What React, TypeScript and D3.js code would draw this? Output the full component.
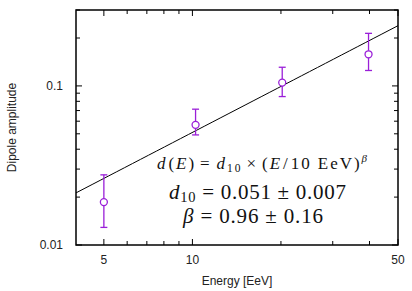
import React from 'react'
import * as d3 from 'd3'

// data
const energy = [5.0, 10.25, 20.2, 39.7]
const amplitude = [0.0186, 0.0569, 0.1049, 0.158]
const errLow = [0.0129, 0.0492, 0.0857, 0.125]
const errHigh = [0.0276, 0.0714, 0.131, 0.214]

const fitD10 = 0.051
const fitBeta = 0.96

const xMajor = [5, 10, 50]
const xMinor = [6, 7, 8, 9, 20, 30, 40]
const yMajor = [0.01, 0.1]
const yMinor = [0.02, 0.03, 0.04, 0.05, 0.06, 0.07, 0.08, 0.09, 0.2, 0.3]

const W = 412
const H = 291
const margin = { left: 76, right: 14, top: 10, bottom: 46 }
const violet = '#9a1fd8'
const sans = '"Liberation Sans", Arial, sans-serif'
const serif = '"Liberation Serif", "Times New Roman", serif'

export default function App() {
  const x = d3.scaleLog().domain([4.02, 50]).range([margin.left, W - margin.right])
  const y = d3.scaleLog().domain([0.01, 0.3]).range([H - margin.bottom, margin.top])
  const [x0, x1] = x.range()
  const [y0, y1] = y.range()

  const fit = d3.line<number>()
    .x(e => x(e))
    .y(e => y(fitD10 * Math.pow(e / 10, fitBeta)))
  const fitE = d3.range(0, 41).map(i => 4.02 * Math.pow(50 / 4.02, i / 40))

  const xTick = (v: number, len: number) => (
    <g key={'x' + v}>
      <line x1={x(v)} x2={x(v)} y1={y0} y2={y0 - len} stroke="#000" strokeWidth={1} />
      <line x1={x(v)} x2={x(v)} y1={y1} y2={y1 + len} stroke="#000" strokeWidth={1} />
    </g>
  )
  const yTick = (v: number, len: number) => (
    <g key={'y' + v}>
      <line x1={x0} x2={x0 + len} y1={y(v)} y2={y(v)} stroke="#000" strokeWidth={1} />
      <line x1={x1} x2={x1 - len} y1={y(v)} y2={y(v)} stroke="#000" strokeWidth={1} />
    </g>
  )

  return (
    <svg width={W} height={H} style={{ position: 'absolute', left: 0, top: 0, background: '#fff' }}>
      <rect x={0} y={0} width={W} height={H} fill="#fff" />
      {xMajor.map(v => xTick(v, 6))}
      {xMinor.map(v => xTick(v, 4))}
      {yMajor.map(v => yTick(v, 6))}
      {yMinor.map(v => yTick(v, 4))}

      {xMajor.map(v => (
        <text key={'xl' + v} x={x(v)} y={y0 + 19} fontFamily={sans} fontSize={12}
          textAnchor="middle" fill="#222">{v}</text>
      ))}
      {yMajor.map(v => (
        <text key={'yl' + v} x={x0 - 13} y={y(v) + 4} fontFamily={sans} fontSize={12}
          textAnchor="end" fill="#222">{v}</text>
      ))}

      <text x={(x0 + x1) / 2} y={H - 6} fontFamily={sans} fontSize={12}
        textAnchor="middle" fill="#222">Energy [EeV]</text>
      <text transform={`translate(16,${(y0 + y1) / 2}) rotate(-90)`} fontFamily={sans}
        fontSize={12} textAnchor="middle" fill="#222">Dipole amplitude</text>

      <path d={fit(fitE) ?? ''} fill="none" stroke="#000" strokeWidth={1} />

      {energy.map((e, i) => (
        <g key={'p' + i} stroke={violet} strokeWidth={1.3} fill="none">
          <line x1={x(e)} x2={x(e)} y1={y(errLow[i])} y2={y(errHigh[i])} />
          <line x1={x(e) - 3.5} x2={x(e) + 3.5} y1={y(errLow[i])} y2={y(errLow[i])} />
          <line x1={x(e) - 3.5} x2={x(e) + 3.5} y1={y(errHigh[i])} y2={y(errHigh[i])} />
          <circle cx={x(e)} cy={y(amplitude[i])} r={3.5} fill="#fff" />
        </g>
      ))}

      {/* fit formula, TeX-like spacing */}
      <text x={157} y={169} fontFamily={serif} fontSize={17} fill="#111"
        textLength={210} lengthAdjust="spacing">
        <tspan fontStyle="italic">d</tspan>
        <tspan dx={1}>(</tspan><tspan fontStyle="italic">E</tspan>)
        <tspan dx={4}>=</tspan>
        <tspan dx={5} fontStyle="italic">d</tspan>
        <tspan fontSize={11.5} dy={3}>10</tspan>
        <tspan dy={-3} dx={4}>×</tspan>
        <tspan dx={4}>(</tspan><tspan fontStyle="italic">E</tspan>
        <tspan dx={1}>/</tspan><tspan dx={1}>10 EeV)</tspan>
        <tspan fontSize={11} dy={-7} fontStyle="italic">β</tspan>
      </text>
      <text x={169} y={199} fontFamily={serif} fontSize={21} fill="#111"
        textLength={177} lengthAdjust="spacing">
        <tspan fontStyle="italic">d</tspan>
        <tspan fontSize={14.5} dy={3}>10</tspan>
        <tspan dy={-3}> = 0.051 ± 0.007</tspan>
      </text>
      <text x={183} y={223} fontFamily={serif} fontSize={21} fill="#111"
        textLength={140} lengthAdjust="spacing">
        <tspan fontStyle="italic">β</tspan> = 0.96 ± 0.16
      </text>

      <rect x={x0} y={y1} width={x1 - x0} height={y0 - y1} fill="none" stroke="#000" strokeWidth={1.5} />
    </svg>
  )
}
